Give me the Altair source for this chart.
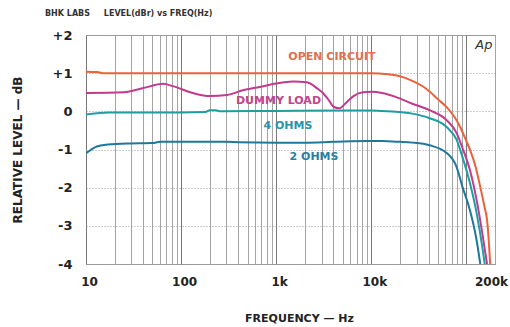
import altair as alt
import pandas as pd

# ---- data ----
open_f = [10, 13, 15, 20, 50, 100, 1000, 5000, 10000, 15000, 20000, 27000, 35000, 41000, 50000,
          62000, 75000, 86000, 100000, 110000, 125000, 140000, 155000, 165000, 171000, 178000]
open_db = [1.04, 1.03, 1.0, 1.0, 1.0, 1.0, 1.0, 1.0, 1.0, 0.97, 0.92, 0.8, 0.65, 0.52, 0.32,
           0.11, -0.15, -0.41, -0.78, -1.03, -1.45, -1.98, -2.5, -2.85, -3.3, -4.0]

dummy_f = [10, 25, 40, 65, 82, 133, 200, 305, 445, 670, 1000, 1500, 2100, 2700, 3100, 3600, 4000,
           4600, 5500, 6500, 8200, 10000, 13000, 18000, 27000, 41000, 62000, 79000, 91000, 109000,
           128000, 147000, 165000]
dummy_db = [0.48, 0.5, 0.61, 0.72, 0.66, 0.48, 0.4, 0.43, 0.55, 0.64, 0.73, 0.78, 0.76, 0.6, 0.48,
            0.28, 0.12, 0.08, 0.24, 0.4, 0.5, 0.51, 0.48, 0.38, 0.2, 0.03, -0.23, -0.57, -0.96,
            -1.54, -2.32, -3.19, -4.0]

four_f = [10, 13, 17, 100, 180, 200, 230, 260, 1000, 5000, 10000, 15000, 27000, 41000, 62000,
          79000, 91000, 109000, 128000, 147000, 156000]
four_db = [-0.08, -0.05, -0.03, -0.03, -0.02, 0.03, 0.03, 0.0, 0.01, 0.02, 0.02, 0.0, -0.06, -0.18,
           -0.41, -0.75, -1.2, -1.88, -2.66, -3.55, -4.0]

two_f = [10, 13, 17, 27, 50, 60, 300, 400, 1000, 2000, 4000, 9000, 13000, 20000, 27000, 41000,
         62000, 79000, 91000, 109000, 128000, 140000]
two_db = [-1.1, -0.92, -0.87, -0.84, -0.83, -0.8, -0.8, -0.81, -0.82, -0.82, -0.8, -0.78, -0.78,
          -0.8, -0.82, -0.89, -1.09, -1.46, -1.98, -2.59, -3.37, -4.0]

series_names = ["OPEN CIRCUIT", "DUMMY LOAD", "4 OHMS", "2 OHMS"]
line_colors = ["#e8623a", "#c23a8c", "#1e9ea2", "#1f789c"]
text_colors = ["#e0704e", "#c2448a", "#2a93aa", "#2a7fa4"]
label_f = [3860, 1057, 1330, 2500]
label_db = [1.42, 0.26, -0.38, -1.2]

grid_f = [m * 10 ** e for e in range(1, 5) for m in range(1, 10)] + [100000, 200000]
tick_labels = {10: "10", 100: "100", 1000: "1k", 10000: "10k", 200000: "200k"}

header = "BHK LABS\u00a0\u00a0\u00a0\u00a0\u00a0LEVEL(dBr) vs FREQ(Hz)"

# ---- tables ----
rows = []
for name, fs, ds, col in zip(series_names, [open_f, dummy_f, four_f, two_f],
                             [open_db, dummy_db, four_db, two_db], line_colors):
    for f, d in zip(fs, ds):
        rows.append({"series": name, "freq": f, "db": d, "color": col})
lines_df = pd.DataFrame(rows)

labels_df = pd.DataFrame({"label": series_names, "freq": label_f, "db": label_db,
                          "color": text_colors})
ap_df = pd.DataFrame({"label": ["Ap"], "freq": [153000], "db": [1.75]})

label_expr = " : ".join(
    f"datum.value == {v} ? '{t}'" for v, t in tick_labels.items()) + " : ''"

x_axis = alt.Axis(
    values=grid_f, labelExpr=label_expr, labelOverlap=False, labelFlush=False,
    domain=False, ticks=False, grid=True,
    gridColor={"condition": {"test": "indexof([10,100,1000,10000,100000], datum.value) >= 0",
                             "value": "#777777"}, "value": "#a4a4a4"},
    gridWidth=1, labelPadding=12, labelFontSize=12, labelFont="DejaVu Sans",
    labelFontWeight="bold", labelColor="#222",
    labelOffset={"condition": {"test": "datum.value == 200000", "value": -4},
                 "value": 3},
    title="FREQUENCY — Hz", titleFont="DejaVu Sans", titleFontSize=11,
    titleFontWeight="bold", titleColor="#222", titlePadding=25, titleX=213,
)
y_axis = alt.Axis(
    values=[-4, -3, -2, -1, 0, 1, 2],
    labelExpr="datum.value > 0 ? '+' + datum.value : datum.value < 0 ? '-' + abs(datum.value) : '0'",
    domain=False, ticks=False, grid=True, gridColor="#9a9a9a", gridDash=[1, 2],
    labelPadding=14, labelFontSize=13, labelFont="DejaVu Sans", labelFontWeight="bold",
    labelColor="#222",
    title="RELATIVE LEVEL — dB", titleFont="DejaVu Sans", titleFontSize=12,
    titleFontWeight="bold", titleColor="#222", titlePadding=28,
)

x_enc = alt.X("freq:Q", scale=alt.Scale(type="log", domain=[10, 200000], nice=False),
              axis=x_axis)
y_enc = alt.Y("db:Q", scale=alt.Scale(domain=[-4, 2], nice=False), axis=y_axis)

lines = alt.Chart(lines_df).mark_line(strokeWidth=2, interpolate="monotone", clip=True).encode(
    x=x_enc, y=y_enc, color=alt.Color("color:N", scale=None), detail="series:N",
    order="freq:Q")

labels = alt.Chart(labels_df).mark_text(font="DejaVu Sans", fontWeight="bold", fontSize=11,
                                        align="center", baseline="middle").encode(
    x=x_enc, y=y_enc, text="label:N", color=alt.Color("color:N", scale=None))

ap = alt.Chart(ap_df).mark_text(font="DejaVu Sans", fontStyle="italic", fontSize=13,
                                align="center", baseline="middle", color="#333").encode(
    x=x_enc, y=y_enc, text="label:N")

chart = alt.layer(lines, labels, ap).properties(
    width=409, height=229,
    autosize=alt.AutoSizeParams(type="none"),
    padding={"left": 86, "top": 35, "right": 15, "bottom": 63},
    background="white",
    title=alt.TitleParams(header, anchor="start", frame="group",
                          dx=-41, offset=11, fontSize=8, font="DejaVu Sans",
                          fontWeight="bold", color="#333"),
).configure_view(stroke="#999", strokeWidth=1)

chart.save("out.html", embed_options={"renderer": "svg", "actions": False})
